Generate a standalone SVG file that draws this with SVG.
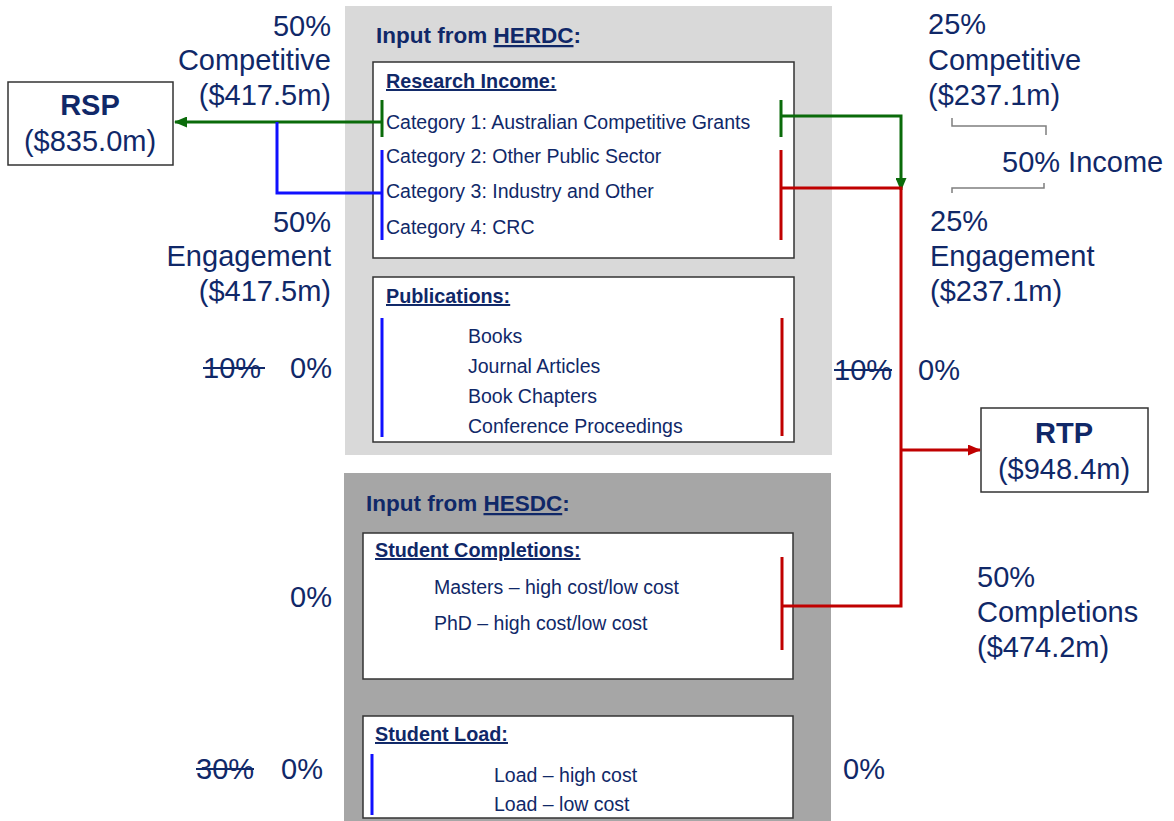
<svg xmlns="http://www.w3.org/2000/svg" width="1174" height="821" viewBox="0 0 1174 821">
<style>
text{font-family:"Liberation Sans",Arial,sans-serif;fill:#102868}
.big{font-size:29px}
.bigb{font-size:29px;font-weight:bold}
.hd{font-size:22.5px;font-weight:bold}
.sub{font-size:19.8px;font-weight:bold;text-decoration:underline}
.it{font-size:19.5px}
.box{fill:#fff;stroke:#333;stroke-width:1.5}
.g{stroke:#0A6B0A;stroke-width:3;fill:none}
.b{stroke:#1010FF;stroke-width:3;fill:none}
.r{stroke:#C00000;stroke-width:3;fill:none}
.br{stroke:#7F7F7F;stroke-width:1.5;fill:none}
.st{stroke:#102868;stroke-width:2}
</style>
<defs>
<marker id="ag" markerWidth="13" markerHeight="11" refX="12" refY="5.5" orient="auto" markerUnits="userSpaceOnUse"><path d="M0,0 L13,5.5 L0,11 Z" fill="#0A6B0A"/></marker>
<marker id="ar" markerWidth="13" markerHeight="11" refX="12" refY="5.5" orient="auto" markerUnits="userSpaceOnUse"><path d="M0,0 L13,5.5 L0,11 Z" fill="#C00000"/></marker>
</defs>
<rect width="1174" height="821" fill="#fff"/>

<g id="herdc">
<rect x="345" y="6" width="487" height="449" fill="#D9D9D9"/>
<text class="hd" x="376" y="43">Input from <tspan text-decoration="underline">HERDC</tspan>:</text>
</g>
<g id="research-income">
<rect class="box" x="373" y="62" width="421" height="196"/>
<text class="sub" x="386" y="88">Research Income:</text>
<text class="it" x="386" y="129">Category 1: Australian Competitive Grants</text>
<text class="it" x="386" y="163">Category 2: Other Public Sector</text>
<text class="it" x="386" y="198">Category 3: Industry and Other</text>
<text class="it" x="386" y="234">Category 4: CRC</text>
</g>
<g id="publications">
<rect class="box" x="373" y="277" width="421" height="165"/>
<text class="sub" x="386" y="303">Publications:</text>
<text class="it" x="468" y="343">Books</text>
<text class="it" x="468" y="373">Journal Articles</text>
<text class="it" x="468" y="403">Book Chapters</text>
<text class="it" x="468" y="433">Conference Proceedings</text>
</g>
<g id="hesdc">
<rect x="344" y="473" width="487" height="348" fill="#A6A6A6"/>
<text class="hd" x="366" y="511">Input from <tspan text-decoration="underline">HESDC</tspan>:</text>
</g>
<g id="completions">
<rect class="box" x="363" y="533" width="430" height="146"/>
<text class="sub" x="375" y="557">Student Completions:</text>
<text class="it" x="434" y="594">Masters – high cost/low cost</text>
<text class="it" x="434" y="630">PhD – high cost/low cost</text>
</g>
<g id="load">
<rect class="box" x="363" y="716" width="430" height="102"/>
<text class="sub" x="375" y="741">Student Load:</text>
<text class="it" x="494" y="782">Load – high cost</text>
<text class="it" x="494" y="811">Load – low cost</text>
</g>
<g id="rsp">
<rect class="box" x="8" y="82" width="165" height="83"/>
<text class="bigb" x="90" y="115" text-anchor="middle">RSP</text>
<text class="big" x="90" y="151" text-anchor="middle">($835.0m)</text>
</g>
<g id="rtp">
<rect class="box" x="981" y="408" width="167" height="84"/>
<text class="bigb" x="1064" y="443" text-anchor="middle">RTP</text>
<text class="big" x="1064" y="479" text-anchor="middle">($948.4m)</text>
</g>

<g id="connectors">
<line class="g" x1="382" y1="100" x2="382" y2="137"/>
<line class="b" x1="382" y1="150" x2="382" y2="240"/>
<line class="b" x1="382" y1="318" x2="382" y2="437"/>
<line class="b" x1="372" y1="754" x2="372" y2="815"/>
<line class="g" x1="781" y1="100" x2="781" y2="137"/>
<line class="r" x1="781" y1="150" x2="781" y2="240"/>
<line class="r" x1="782" y1="318" x2="782" y2="436"/>
<line class="r" x1="782" y1="557" x2="782" y2="650"/>
<path class="g" d="M382,122 H175" marker-end="url(#ag)"/>
<path class="b" d="M382,193 H277 V122"/>
<path class="g" d="M781,116 H901 V190" marker-end="url(#ag)"/>
<path class="r" d="M781,188 H901 V606 H782"/>
<path class="r" d="M901,450 H980" marker-end="url(#ar)"/>
<path class="br" d="M952,118 V126 H1046 V135"/>
<path class="br" d="M1044,183 V188 H952 V193"/>
</g>

<g id="labels">
<text class="big" x="331" y="36" text-anchor="end">50%</text>
<text class="big" x="331" y="70" text-anchor="end">Competitive</text>
<text class="big" x="331" y="105" text-anchor="end">($417.5m)</text>
<text class="big" x="331" y="232" text-anchor="end">50%</text>
<text class="big" x="331" y="266" text-anchor="end">Engagement</text>
<text class="big" x="331" y="301" text-anchor="end">($417.5m)</text>
<text class="big" x="203" y="378">10%</text>
<line class="st" x1="203" y1="368" x2="265" y2="368"/>
<text class="big" x="290" y="378">0%</text>
<text class="big" x="290" y="607">0%</text>
<text class="big" x="196" y="779">30%</text>
<line class="st" x1="196" y1="769" x2="254" y2="769"/>
<text class="big" x="281" y="779">0%</text>
<text class="big" x="928" y="34">25%</text>
<text class="big" x="928" y="70">Competitive</text>
<text class="big" x="928" y="105">($237.1m)</text>
<text class="big" x="1002" y="172">50% Income</text>
<text class="big" x="930" y="231">25%</text>
<text class="big" x="930" y="266">Engagement</text>
<text class="big" x="930" y="301">($237.1m)</text>
<text class="big" x="834" y="380">10%</text>
<line class="st" x1="834" y1="370" x2="892" y2="370"/>
<text class="big" x="918" y="380">0%</text>
<text class="big" x="843" y="779">0%</text>
<text class="big" x="977" y="587">50%</text>
<text class="big" x="977" y="622">Completions</text>
<text class="big" x="977" y="657">($474.2m)</text>
</g>
</svg>
